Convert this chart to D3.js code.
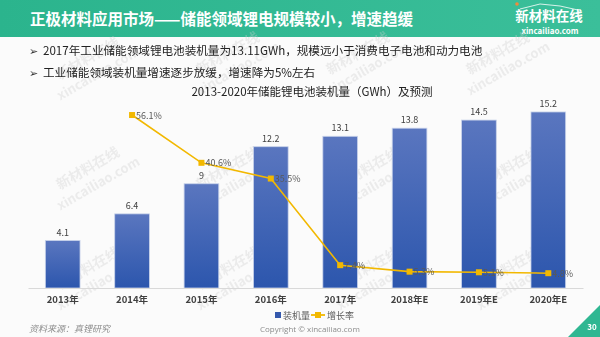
<!DOCTYPE html>
<html><head><meta charset="utf-8">
<script src="https://cdn.jsdelivr.net/npm/d3@7"></script>
<style>
body{margin:0;padding:0;background:#fff;}
svg{display:block;font-family:"Noto Sans CJK SC","Noto Sans",sans-serif;}
</style></head>
<body><svg id="c" width="600" height="337"></svg>
<script>
const categories = ["2013年","2014年","2015年","2016年","2017年","2018年E","2019年E","2020年E"];
const capacity = [4.1, 6.4, 9, 12.2, 13.1, 13.8, 14.5, 15.2];
const growth = [null, 56.1, 40.6, 35.5, 7.4, 5.3, 5.1, 4.8];
const capacityLabels = ["4.1","6.4","9","12.2","13.1","13.8","14.5","15.2"];
const growthLabels = [null,"56.1%","40.6%","35.5%","7.4%","5.3%","5.1%","4.8%"];
const bullets = ["2017年工业储能领域锂电池装机量为13.11GWh，规模远小于消费电子电池和动力电池","工业储能领域装机量增速逐步放缓，增速降为5%左右"];

const svg = d3.select("#c");
const defs = svg.append("defs");
const hg = defs.append("linearGradient").attr("id","hg").attr("x1",0).attr("x2",1).attr("y1",0).attr("y2",0);
hg.append("stop").attr("offset","0%").attr("stop-color","#2bb48d");
hg.append("stop").attr("offset","100%").attr("stop-color","#3bbf9a");
const bg = defs.append("linearGradient").attr("id","bg").attr("x1",0).attr("x2",0).attr("y1",0).attr("y2",1);
bg.append("stop").attr("offset","0%").attr("stop-color","#5a76bf");
bg.append("stop").attr("offset","100%").attr("stop-color","#2c56ad");

svg.append("rect").attr("width",600).attr("height",337).attr("fill","#fbfbfb");
// header
svg.append("rect").attr("width",600).attr("height",37).attr("fill","url(#hg)");
svg.append("text").attr("x",30).attr("y",25).attr("fill","#fff").attr("font-size",15.5).attr("font-weight","bold")
  .text("正极材料应用市场——储能领域锂电规模较小，增速趋缓");
// logo
svg.append("text").attr("x",549).attr("y",21).attr("text-anchor","middle").attr("fill","#fff").attr("font-size",13.5).attr("font-weight","bold").text("新材料在线");
svg.append("text").attr("x",550).attr("y",34).attr("text-anchor","middle").attr("fill","#fff").attr("font-size",8).attr("font-weight","bold").text("xincailiao.com");
svg.append("circle").attr("cx",517).attr("cy",4).attr("r",1.8).attr("fill","#f08a3c");
svg.append("path").attr("d","M520,9 L540,4 L560,6 L578,10").attr("stroke","#fff").attr("stroke-width",1).attr("fill","none").attr("opacity",0.8);

// watermarks
const wm = svg.append("g").attr("fill","#cfcfcf").attr("opacity",0.35).attr("font-weight","bold");
const wmPos = [[60,80],[200,75],[330,75],[470,75],[60,190],[200,190],[340,190],[480,190],[60,290],[200,290],[340,290],[480,290]];
wmPos.forEach(([x,y])=>{
  const g = wm.append("g").attr("transform",`translate(${x},${y}) rotate(-30)`);
  g.append("text").attr("x",0).attr("y",0).attr("font-size",14).text("新材料在线");
  g.append("text").attr("x",-10).attr("y",18).attr("font-size",13).text("xincailiao.com");
});

// bullets
bullets.forEach((b,i)=>{
  const y = 55 + i*22;
  svg.append("text").attr("x",29).attr("y",y).attr("font-size",10.5).attr("fill","#333").text("➢");
  svg.append("text").attr("x",43).attr("y",y).attr("font-size",11.6).attr("fill","#222").text(b);
});

// chart title
svg.append("text").attr("x",312).attr("y",96).attr("text-anchor","middle").attr("font-size",11.5).attr("fill","#222")
  .text("2013-2020年储能锂电池装机量（GWh）及预测");

const x = d3.scaleBand().domain(categories).range([28,583]).paddingInner(0.5).paddingOuter(0.25);
const y = d3.scaleLinear().domain([0,16]).range([288,102.7]);
const y2 = d3.scaleLinear().domain([0,60]).range([288,103]);

svg.selectAll("rect.bar").data(capacity).join("rect").attr("class","bar")
  .attr("x",(d,i)=>x(categories[i])).attr("width",x.bandwidth())
  .attr("y",d=>y(d)).attr("height",d=>y(0)-y(d))
  .attr("fill","url(#bg)").attr("stroke","#c9d3ea").attr("stroke-width",0.8);
svg.selectAll("text.bl").data(capacity).join("text").attr("class","bl")
  .attr("x",(d,i)=>x(categories[i])+x.bandwidth()/2).attr("y",d=>y(d)-5)
  .attr("text-anchor","middle").attr("font-size",9).attr("fill","#404040")
  .text((d,i)=>capacityLabels[i]);

// axis
const xAxis = svg.append("g").attr("transform","translate(0,288)").call(d3.axisBottom(x).tickSize(0).tickPadding(8));
xAxis.select(".domain").attr("stroke","#d9d9d9");
xAxis.selectAll("text").attr("font-size",9.5).attr("font-weight","bold").attr("fill","#404040").attr("font-family","\"Noto Sans CJK SC\",sans-serif");

// line
const pts = growth.map((g,i)=>({g,i})).filter(d=>d.g!=null);
const cx = i => x(categories[i]) + x.bandwidth()/2;
const line = d3.line().x(d=>cx(d.i)).y(d=>y2(d.g));
svg.append("path").datum(pts).attr("d",line).attr("fill","none").attr("stroke","#f2b800").attr("stroke-width",1.6);
svg.selectAll("rect.mk").data(pts).join("rect").attr("class","mk")
  .attr("x",d=>cx(d.i)-3).attr("y",d=>y2(d.g)-3).attr("width",6).attr("height",6).attr("fill","#f2b800");
svg.selectAll("text.gl").data(pts).join("text").attr("class","gl")
  .attr("x",d=>cx(d.i)+4).attr("y",d=>y2(d.g)+3.5).attr("font-size",9).attr("fill","#595959")
  .text(d=>growthLabels[d.i]);

// legend
svg.append("rect").attr("x",275).attr("y",312).attr("width",6).attr("height",6).attr("fill","#3559ad");
svg.append("text").attr("x",283).attr("y",318.5).attr("font-size",9).attr("fill","#595959").text("装机量");
svg.append("line").attr("x1",311).attr("x2",325).attr("y1",315).attr("y2",315).attr("stroke","#f2b800").attr("stroke-width",1.8);
svg.append("rect").attr("x",315).attr("y",312).attr("width",6).attr("height",6).attr("fill","#f2b800");
svg.append("text").attr("x",327).attr("y",318.5).attr("font-size",9).attr("fill","#595959").text("增长率");

// footer
svg.append("text").attr("x",29).attr("y",332).attr("font-size",9).attr("font-style","italic").attr("fill","#8c8c8c").text("资料来源：真锂研究");
svg.append("text").attr("x",260).attr("y",332).attr("font-size",8).attr("fill","#8c8c8c").attr("font-family","\"Open Sans\",sans-serif").text("Copyright © xincailiao.com");
svg.append("path").attr("d","M568,337 L600,305 L600,337 Z").attr("fill","#2fb792");
svg.append("text").attr("x",592).attr("y",330).attr("text-anchor","middle").attr("font-size",8).attr("font-weight","bold").attr("fill","#fff").text("30");
</script></body></html>
